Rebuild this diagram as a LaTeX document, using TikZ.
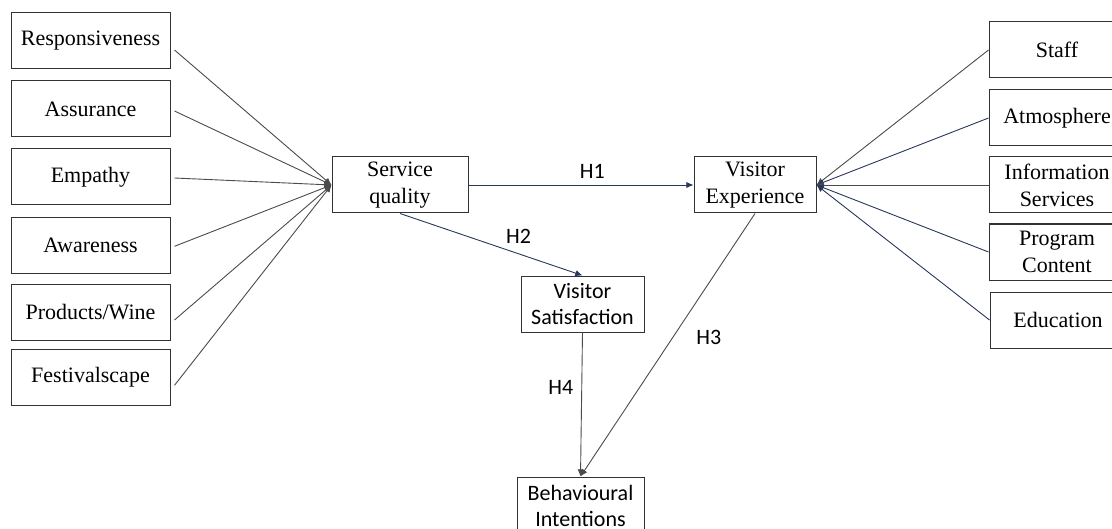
\documentclass[tikz,border=0pt]{standalone}
\usepackage{fontspec}
\setmainfont{Liberation Serif}
\newfontfamily\labelfont{Carlito}
\usetikzlibrary{arrows.meta}
\definecolor{linkgray}{RGB}{75,75,75}
\definecolor{linkblue}{RGB}{40,55,90}
\tikzset{
  dimension/.style={
    % The shape:
    shape=rectangle,
    % The size:
    minimum width=79.5pt, minimum height=28pt, inner sep=1pt,
    % The border:
    draw=black!80, line width=0.5pt,
    % The text:
    font=\fontsize{11}{13.4}\selectfont, align=center
  },
  construct/.style={dimension, minimum width=68pt},
  outcome/.style={dimension, minimum width=61.5pt,
    font=\labelfont\fontsize{11}{13.2}\selectfont},
  link/.style={-{Latex[length=3.6pt,width=3.2pt]}, line width=0.45pt, draw=linkgray},
  hyp/.style={font=\labelfont\fontsize{11}{13}\selectfont, inner sep=1pt}
}
\begin{document}
\begin{tikzpicture}[x=0.5pt,y=-0.5pt]
  \useasboundingbox (0,0) rectangle (1112,529);
  \clip (0,0) rectangle (1112,529);
  % service quality dimensions
  \node[dimension] (resp) at (90.5,41) {Responsiveness};
  \node[dimension] (assu) at (90.5,109) {Assurance};
  \node[dimension] (empa) at (90.5,177) {Empathy};
  \node[dimension] (awar) at (90.5,245.3) {Awareness};
  \node[dimension] (prod) at (90.5,312) {Products/Wine};
  \node[dimension] (fest) at (90.5,377.3) {Festivalscape};
  % constructs
  \node[construct] (sq) at (400,185) {Service\\quality};
  \node[construct, minimum width=61pt] (ve) at (755,185) {Visitor\\Experience};
  \node[outcome] (vs) at (582.5,304) {Visitor\\Satisfaction};
  \node[outcome, minimum width=63.5pt, minimum height=29pt] (bi) at (580.5,506) {Behavioural\\Intentions};
  % experience dimensions
  \node[dimension, minimum width=68pt] (staff) at (1057,50) {Staff};
  \node[dimension, minimum width=68pt] (atmo) at (1057,118) {Atmosphere};
  \node[dimension, minimum width=68pt] (info) at (1057,185) {Information\\Services};
  \node[dimension, minimum width=68pt] (prog) at (1057,252) {Program\\Content};
  \node[dimension, minimum width=68pt] (educ) at (1058,320) {Education};

  \foreach \d/\s in {resp/4.5,assu/1,empa/0.5,awar/0.5,prod/4,fest/4}
    \draw[link] ([xshift=2pt,yshift=-\s pt]\d.east) -- (sq.west);
  \foreach \d/\c in {staff/linkgray,atmo/linkblue,info/linkgray,prog/linkblue,educ/linkblue}
    \draw[link,draw=\c] (\d.west) -- (ve.east);

  \draw[link,draw=linkblue] (sq.east) -- (ve.west) node[hyp,pos=0.55,above=2pt] {H1};
  \draw[link,draw=linkblue] (sq.south) -- (vs.north) node[hyp,pos=0.65,above=4pt] {H2};
  \draw[link] (ve.south) -- (bi.north) node[hyp,pos=0.47,right=10.5pt] {H3};
  \draw[link] (vs.south) -- (bi.north) node[hyp,pos=0.38,left=3pt] {H4};
\end{tikzpicture}
\end{document}
